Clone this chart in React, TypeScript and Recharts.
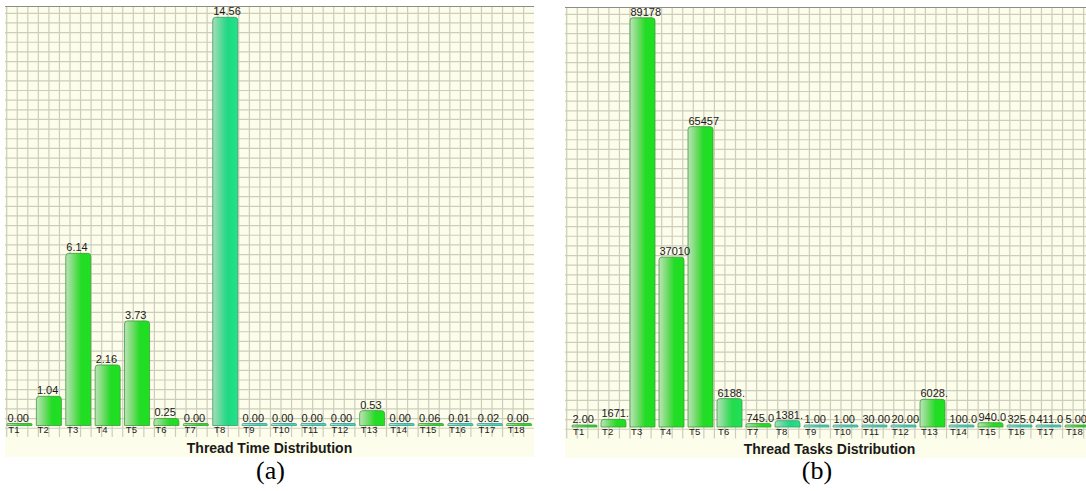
import React from 'react';
import { BarChart, Bar, XAxis, YAxis, CartesianGrid, Cell, LabelList } from 'recharts';

const threads = ['T1', 'T2', 'T3', 'T4', 'T5', 'T6', 'T7', 'T8', 'T9', 'T10', 'T11', 'T12', 'T13', 'T14', 'T15', 'T16', 'T17', 'T18'];
const timeValues = [0.0, 1.04, 6.14, 2.16, 3.73, 0.25, 0.0, 14.56, 0.0, 0.0, 0.0, 0.0, 0.53, 0.0, 0.06, 0.01, 0.02, 0.0];
const taskValues = [2, 1671, 89178, 37010, 65457, 6188, 745, 1381, 1, 1, 30, 20, 6028, 100, 940, 325, 411, 5];
const timeTones = ['g', 'g', 'g', 'g', 'g', 'g', 'g', 'm', 'c', 'c', 'c', 'c', 'g', 'c', 'g', 'c', 'c', 'g'];
const taskTones = ['g', 'g', 'g', 'g', 'g', 'gm', 'g', 'm', 'c', 'c', 'c', 'c', 'g', 'c', 'g', 'c', 'c', 'g'];
const timeTitle = 'Thread Time Distribution';
const taskTitle = 'Thread Tasks Distribution';

const FONT = '"Liberation Sans", Arial, Helvetica, sans-serif';

const TONES: Record<string, { stops: string[]; stroke: string }> = {
  g: { stops: ['#bfe3bb', '#52da4c', '#22dc26', '#1ee11f'], stroke: '#3f9a3c' },
  gm: { stops: ['#b8e2bc', '#48da66', '#22dc4c', '#1fe15a'], stroke: '#3f9a4c' },
  m: { stops: ['#a9dcb9', '#3bd98f', '#1ed882', '#22e38a'], stroke: '#3c9a6c' },
  c: { stops: ['#bfe4de', '#5cd8c6', '#3fd4bc', '#3ad9c2'], stroke: '#3f9c90' },
};

const fmt = (v: number) => Number(v).toFixed(2).slice(0, 5);

type PanelProps = {
  id: string;
  left: number;
  top: number;
  values: number[];
  tones: string[];
  title: string;
  baseline: number;
  maxTop: number;
  padLeft: number;
  padRight: number;
};

const W = 529;
const H = 451;

function Panel({ id, left, top, values, tones, title, baseline, maxTop, padLeft, padRight }: PanelProps) {
  const data = threads.map((name, i) => ({ name, value: values[i] }));
  const chartH = H - 1;
  const plotBottom = baseline + 11.5;
  const axisH = chartH - plotBottom;
  const dataMax = Math.max(...values);
  const domainMax = (dataMax * baseline) / (baseline - maxTop);

  const vGen = () => {
    const xs: number[] = [];
    for (let x = 1.7; x <= W; x += 10.55) xs.push(x);
    return xs;
  };
  const hGen = () => {
    const ys: number[] = [];
    for (let y = 6.3; y <= plotBottom; y += 9.65) ys.push(y);
    return ys;
  };

  const Tick = (p: any) => (
    <text x={Number(p.x) - 11.5} y={Number(p.y) - 3.6} fontSize={9.5} fontFamily={FONT} fill="#1a1a1a" letterSpacing={0.2}>
      {p.payload.value}
    </text>
  );

  const ValueLabel = (p: any) => (
    <text x={Number(p.x) + 0.5} y={Number(p.y) - 2} fontSize={11} fontFamily={FONT} fill="#1a1a1a">
      {fmt(p.value)}
    </text>
  );

  const TitleLabel = (p: any) => {
    const vb = p.viewBox || { x: 0, y: plotBottom, width: W };
    return (
      <text
        x={vb.x + vb.width / 2}
        y={vb.y + 15.5}
        textAnchor="middle"
        fontSize={14}
        fontWeight="bold"
        fontFamily={FONT}
        fill="#1a1a1a"
      >
        {title}
      </text>
    );
  };

  return (
    <div
      style={{
        position: 'absolute',
        left,
        top,
        width: W,
        height: H,
        background: '#fdfdeb',
        borderTop: '1px solid #8c8c84',
        boxSizing: 'border-box',
      }}
    >
      <BarChart width={W} height={chartH} data={data} margin={{ top: 0, right: 0, bottom: 0, left: 0 }} barSize={25}>
        <defs>
          {Object.keys(TONES).map((k) => (
            <linearGradient key={k} id={`${id}-${k}`} x1="0" y1="0" x2="1" y2="0">
              <stop offset="0" stopColor={TONES[k].stops[0]} />
              <stop offset="0.45" stopColor={TONES[k].stops[1]} />
              <stop offset="0.62" stopColor={TONES[k].stops[2]} />
              <stop offset="1" stopColor={TONES[k].stops[3]} />
            </linearGradient>
          ))}
        </defs>
        <CartesianGrid
          stroke="#cdcdbc"
          strokeWidth={1.2}
          fill="none"
          verticalCoordinatesGenerator={vGen}
          horizontalCoordinatesGenerator={hGen}
        />
        <XAxis
          dataKey="name"
          height={axisH}
          axisLine={false}
          tickLine={false}
          tickSize={0}
          tickMargin={0}
          interval={0}
          padding={{ left: padLeft, right: padRight }}
          tick={Tick}
          label={{ content: TitleLabel } as any}
        />
        <YAxis hide domain={[0, domainMax]} padding={{ top: 0, bottom: 11.5 }} />
        <Bar dataKey="value" isAnimationActive={false} minPointSize={2} radius={[3, 3, 0, 0]}>
          {data.map((d, i) => (
            <Cell
              key={d.name}
              fill={`url(#${id}-${tones[i]})`}
              stroke={TONES[tones[i]].stroke}
              strokeWidth={0.8}
            />
          ))}
          <LabelList dataKey="value" content={ValueLabel} />
        </Bar>
      </BarChart>
    </div>
  );
}

export default function App() {
  return (
    <div
      style={{
        position: 'absolute',
        left: 0,
        top: 0,
        width: 1086,
        height: 491,
        overflow: 'hidden',
        background: '#ffffff',
      }}
    >
      <style>{'.recharts-surface { overflow: visible; }'}</style>
      <Panel
        id="time"
        left={5}
        top={6}
        values={timeValues}
        tones={timeTones}
        title={timeTitle}
        baseline={418.5}
        maxTop={10.3}
        padLeft={0}
        padRight={0}
      />
      <Panel
        id="task"
        left={565}
        top={7}
        values={taskValues}
        tones={taskTones}
        title={taskTitle}
        baseline={419}
        maxTop={9.8}
        padLeft={5}
        padRight={2}
      />
      <svg width={1086} height={491} style={{ position: 'absolute', left: 0, top: 0, pointerEvents: 'none' }}>
        <text x={270.5} y={479} textAnchor="middle" fontSize={26} fontFamily='"Liberation Serif", "Times New Roman", serif' fill="#000">
          (a)
        </text>
        <text x={817} y={479} textAnchor="middle" fontSize={26} fontFamily='"Liberation Serif", "Times New Roman", serif' fill="#000">
          (b)
        </text>
      </svg>
    </div>
  );
}
